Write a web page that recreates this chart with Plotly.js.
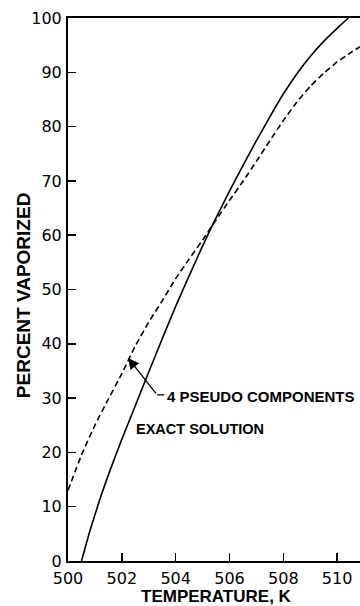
<!DOCTYPE html>
<html>
<head>
<meta charset="utf-8">
<script src="https://cdn.plot.ly/plotly-3.0.1.min.js"></script>
<style>
  html, body { margin: 0; padding: 0; background: #ffffff; }
  #chart { width: 360px; height: 606px; }
</style>
</head>
<body>
<div id="chart"></div>
<script>
// Exact solution: percent vaporized vs temperature (K)
var exactT = [500.5, 500.8, 501.2, 501.6, 502.0, 502.5, 503.0, 503.5, 504.0, 504.5,
              505.0, 505.5, 506.0, 506.5, 507.0, 507.5, 508.0, 508.5, 509.0, 509.5,
              510.0, 510.42];
var exactP = [0, 5.3, 11.6, 17.2, 22.4, 28.6, 34.8, 40.9, 46.9, 52.5,
              58.0, 63.2, 68.1, 72.8, 77.4, 81.8, 86.0, 89.7, 92.9, 95.7,
              98.1, 100];

// Approximation with 4 pseudo components
var pseudoT = [500.0, 500.5, 501.0, 501.5, 502.0, 502.5, 503.0, 503.5, 504.0, 504.5,
               505.0, 505.5, 506.0, 506.5, 507.0, 507.5, 508.0, 508.5, 509.0, 509.5,
               510.0, 510.5, 510.85];
var pseudoP = [13.0, 19.5, 25.0, 29.8, 34.5, 39.6, 44.0, 47.9, 52.0, 55.6,
               59.1, 62.8, 66.4, 69.9, 73.6, 77.4, 81.1, 84.5, 87.4, 89.8,
               91.9, 93.6, 94.7];

var xTicks = [500, 502, 504, 506, 508, 510];
var yTicks = [0, 10, 20, 30, 40, 50, 60, 70, 80, 90, 100];

// Where the leader for the pseudo-component label touches the dashed curve
var leaderTip = {T: 502.23, P: 37.4};

var traces = [
  {
    x: exactT, y: exactP, type: 'scatter', mode: 'lines',
    line: {color: '#000000', width: 1.6, shape: 'spline', smoothing: 0.5},
    hoverinfo: 'skip', showlegend: false
  },
  {
    x: pseudoT, y: pseudoP, type: 'scatter', mode: 'lines',
    line: {color: '#000000', width: 1.6, dash: '6px,3.5px', shape: 'spline', smoothing: 0.5},
    hoverinfo: 'skip', showlegend: false
  }
];

var tickFont = {family: 'DejaVu Sans', size: 16, color: '#000000'};
var boldFamily = 'Liberation Sans, Arial, sans-serif';

var layout = {
  width: 360, height: 606,
  margin: {l: 68, r: 0, t: 18, b: 45},
  paper_bgcolor: '#ffffff', plot_bgcolor: '#ffffff',
  showlegend: false,
  xaxis: {
    range: [500, 510.85], tickvals: xTicks, ticktext: xTicks.map(String),
    showgrid: false, zeroline: false,
    showline: true, linecolor: '#000000', linewidth: 2, mirror: true,
    ticks: 'inside', ticklen: 8, tickwidth: 1.5, tickcolor: '#000000',
    tickfont: tickFont, ticklabelstandoff: 2, fixedrange: true
  },
  yaxis: {
    range: [0, 100], tickvals: yTicks, ticktext: yTicks.map(String),
    showgrid: false, zeroline: false,
    showline: true, linecolor: '#000000', linewidth: 2,
    ticks: 'inside', ticklen: 8, tickwidth: 1.5, tickcolor: '#000000',
    tickfont: tickFont, ticklabelstandoff: 1, fixedrange: true
  },
  shapes: [
    {type: 'line', xref: 'x', yref: 'y', x0: 503.31, y0: 30.6, x1: 503.58, y1: 30.6,
     line: {color: '#000000', width: 1.3}}
  ],
  annotations: [
    // leader arrow to the dashed curve
    {x: leaderTip.T, y: leaderTip.P, xref: 'x', yref: 'y',
     ax: 503.31, ay: 30.6, axref: 'x', ayref: 'y',
     text: '', showarrow: true, arrowhead: 2, arrowsize: 1.7, arrowwidth: 1.3,
     arrowcolor: '#000000', standoff: 0},
    {x: 503.62, y: 30.3, xref: 'x', yref: 'y', xanchor: 'left', yanchor: 'middle',
     text: '4 PSEUDO COMPONENTS', showarrow: false,
     font: {family: boldFamily, size: 15, color: '#000000', weight: 700}},
    {x: 502.45, y: 24.4, xref: 'x', yref: 'y', xanchor: 'left', yanchor: 'middle',
     text: 'EXACT SOLUTION', showarrow: false,
     font: {family: boldFamily, size: 14.5, color: '#000000', weight: 700}},
    // axis titles
    {x: -0.15, y: 0.49, xref: 'paper', yref: 'paper', xanchor: 'center', yanchor: 'middle',
     textangle: -90, text: 'PERCENT VAPORIZED', showarrow: false,
     font: {family: boldFamily, size: 19, color: '#000000', weight: 700}},
    {x: 0.507, y: -0.0645, xref: 'paper', yref: 'paper', xanchor: 'center', yanchor: 'middle',
     text: 'TEMPERATURE, K', showarrow: false, borderpad: 0,
     font: {family: boldFamily, size: 17, color: '#000000', weight: 700}}
  ]
};

Plotly.newPlot('chart', traces, layout, {displayModeBar: false, staticPlot: true});
</script>
</body>
</html>
